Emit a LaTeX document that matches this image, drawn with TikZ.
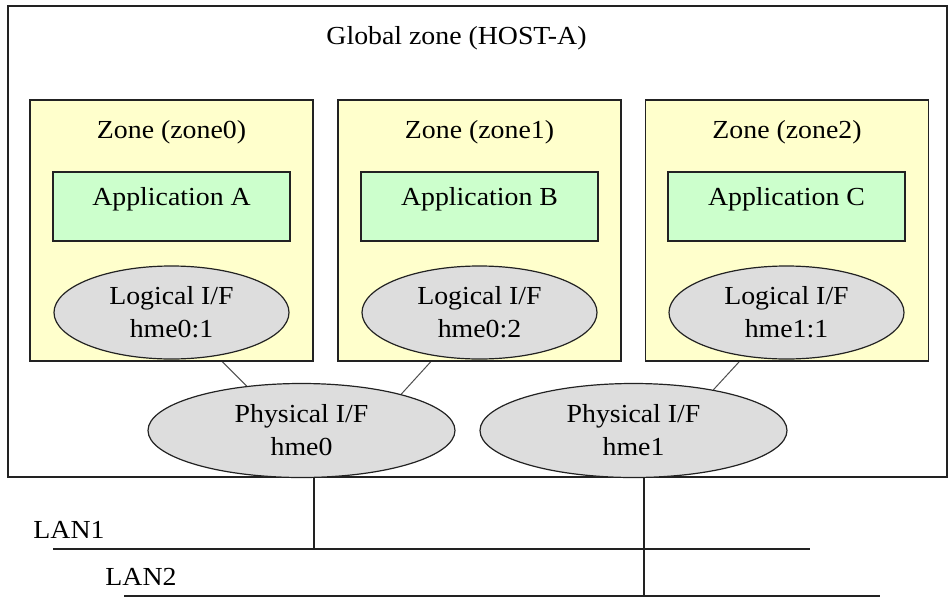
\documentclass[tikz,border=0pt]{standalone}
\usepackage{fontspec}
\setmainfont{Liberation Serif}[FakeStretch=1.07]
\usetikzlibrary{shapes.geometric,backgrounds}
\definecolor{zonefill}{HTML}{FFFFCC}
\definecolor{appfill}{HTML}{CCFFCC}
\definecolor{iffill}{HTML}{DDDDDD}
\definecolor{edge}{HTML}{222222}
\begin{document}
\begin{tikzpicture}[x=1pt,y=-1pt,
  every node/.style={font=\fontsize{26}{33}\selectfont, text=black},
  globalbox/.style={draw=edge, line width=1.6pt, inner sep=0pt, minimum width=939pt, minimum height=471pt},
  zonebox/.style={draw=edge, fill=zonefill, line width=1.3pt, inner sep=0pt, minimum width=283pt, minimum height=261pt},
  appbox/.style={draw=edge, fill=appfill, line width=1.3pt, inner sep=0pt, minimum width=237pt, text height=33.6pt, text depth=35.4pt},
  logif/.style={ellipse, draw=edge, fill=iffill, line width=1.2pt, inner sep=0pt, minimum width=235pt, minimum height=93pt, align=center},
  phyif/.style={ellipse, draw=edge, fill=iffill, line width=1.2pt, inner sep=0pt, minimum width=307pt, minimum height=94pt, align=center},
  label/.style={inner sep=0pt},
  wire/.style={draw=edge, line width=1.2pt},
  link/.style={draw=edge!80, line width=1pt}]
\useasboundingbox (0,0) rectangle (952,597);
% global zone
\node[globalbox] (glob) at (477.5,241.5) {};
\node[label] (globtitle) at (456.5,38) {Global zone (HOST-A)};
% zones
\node[zonebox] (zone0) at (171.5,230.5) {};
\node[zonebox] (zone1) at (479.5,230.5) {};
\node[zonebox] (zone2) at (787,230.5) {};
\node[label] (z0t) at (171.5,132) {Zone (zone0)};
\node[label] (z1t) at (479.5,132) {Zone (zone1)};
\node[label] (z2t) at (787,132) {Zone (zone2)};
% applications
\node[appbox] (appA) at (171.5,206.5) {Application A};
\node[appbox] (appB) at (479.5,206.5) {Application B};
\node[appbox] (appC) at (786.5,206.5) {Application C};
% logical interfaces
\node[logif] (log0) at (171.5,312.5) {Logical I/F\\hme0:1};
\node[logif] (log1) at (479.5,312.5) {Logical I/F\\hme0:2};
\node[logif] (log2) at (786.5,312.5) {Logical I/F\\hme1:1};
% physical interfaces
\node[phyif] (phy0) at (301.5,430.5) {Physical I/F\\hme0};
\node[phyif] (phy1) at (633.5,430.5) {Physical I/F\\hme1};
% connectors behind the zones
\begin{scope}[on background layer]
\draw[link] (log0.-44.3) -- (phy0.141);
\draw[link] (log1.-135) -- (phy0.20.8);
\draw[link] (log2.-134.3) -- (phy1.27.9);
\end{scope}
% LANs
\coordinate (lan1a) at (53,549);
\coordinate (lan1b) at (810,549);
\coordinate (lan2a) at (124,596);
\coordinate (lan2b) at (880,596);
\draw[wire] (lan1a) -- (lan1b);
\draw[wire] (lan2a) -- (lan2b);
\draw[wire] ([xshift=12.5pt]phy0.south) -- ([xshift=12.5pt]phy0.south |- lan1a);
\draw[wire] ([xshift=10.5pt]phy1.south) -- ([xshift=10.5pt]phy1.south |- lan2a);
\node[label] (lan1t) at (69,530) {LAN1};
\node[label] (lan2t) at (141,577) {LAN2};
\end{tikzpicture}
\end{document}
